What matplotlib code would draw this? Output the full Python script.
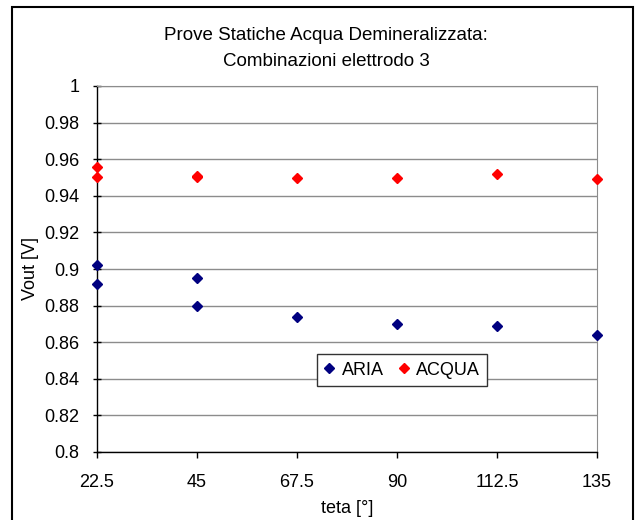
import numpy
import matplotlib
matplotlib.use("Agg")
from matplotlib import pyplot
from matplotlib.patches import Rectangle

# data
teta_aria = [22.5, 22.5, 45, 45, 67.5, 90, 112.5, 135]
vout_aria = [0.902, 0.892, 0.895, 0.880, 0.874, 0.870, 0.869, 0.864]
teta_acqua = [22.5, 22.5, 45, 45, 67.5, 90, 112.5, 135]
vout_acqua = [0.9555, 0.9505, 0.951, 0.9505, 0.9497, 0.9496, 0.9517, 0.949]

x_ticks = [22.5, 45, 67.5, 90, 112.5, 135]
x_labels = ["22.5", "45", "67.5", "90", "112.5", "135"]
y_ticks = [0.8, 0.82, 0.84, 0.86, 0.88, 0.9, 0.92, 0.94, 0.96, 0.98, 1.0]
y_labels = ["0.8", "0.82", "0.84", "0.86", "0.88", "0.9", "0.92", "0.94", "0.96", "0.98", "1"]

title_lines = ["Prove Statiche Acqua Demineralizzata:", "Combinazioni elettrodo 3"]

pyplot.rcParams['font.family'] = ['Liberation Sans', 'DejaVu Sans']

fig = pyplot.figure(figsize=(6.42, 5.2), dpi=100)
ax = fig.add_axes([97/642, 1 - 452/520, 500/642, 366/520])

# outer chart frame
fig.patches.append(Rectangle((12/642, -0.05), 621/642, 1.05 - 7/520,
                             transform=fig.transFigure, fill=False,
                             edgecolor='black', linewidth=1.5, zorder=0))

ax.set_xlim(22.5, 135)
ax.set_ylim(0.8, 1.0)
ax.set_xticks(x_ticks)
ax.set_xticklabels(x_labels)
ax.set_yticks(y_ticks)
ax.set_yticklabels(y_labels)
ax.tick_params(axis='x', direction='out', length=4.5, width=1, labelsize=13, pad=11.5)
ax.tick_params(axis='y', direction='inout', length=6, width=1, labelsize=13, pad=9.5)

ax.grid(axis='y', color='#8c8c8c', linewidth=1)
ax.set_axisbelow(True)
for side in ['top', 'right']:
    ax.spines[side].set_color('#8c8c8c')
for side in ['left', 'bottom']:
    ax.spines[side].set_color('black')
    ax.spines[side].set_linewidth(1)

ax.plot(teta_aria, vout_aria, 'D', color='#000080', markersize=4.6,
        linestyle='none', label='ARIA', clip_on=False, zorder=3)
ax.plot(teta_acqua, vout_acqua, 'D', color='#ff0000', markersize=4.6,
        linestyle='none', label='ACQUA', clip_on=False, zorder=3)

# title, two centred lines
fig.text(326/642, 1 - 35/520, title_lines[0], fontsize=13.5, ha='center', va='center')
fig.text(326/642, 1 - 62/520, title_lines[1], fontsize=13.5, ha='center', va='center')

ax.set_xlabel("teta [°]", fontsize=13, labelpad=6)
ax.set_ylabel("Vout [V]", fontsize=13, labelpad=4)

leg = ax.legend(loc='center', bbox_to_anchor=(0.61, 0.224), ncol=2,
                fontsize=13, frameon=True, fancybox=False, handlelength=0.6,
                handletextpad=0.4, columnspacing=0.8, borderpad=0.4,
                borderaxespad=0, markerscale=1.0)
leg.get_frame().set_edgecolor('#333333')
leg.get_frame().set_linewidth(1)
leg.get_frame().set_alpha(1)

fig.savefig('out.png', dpi=100)
